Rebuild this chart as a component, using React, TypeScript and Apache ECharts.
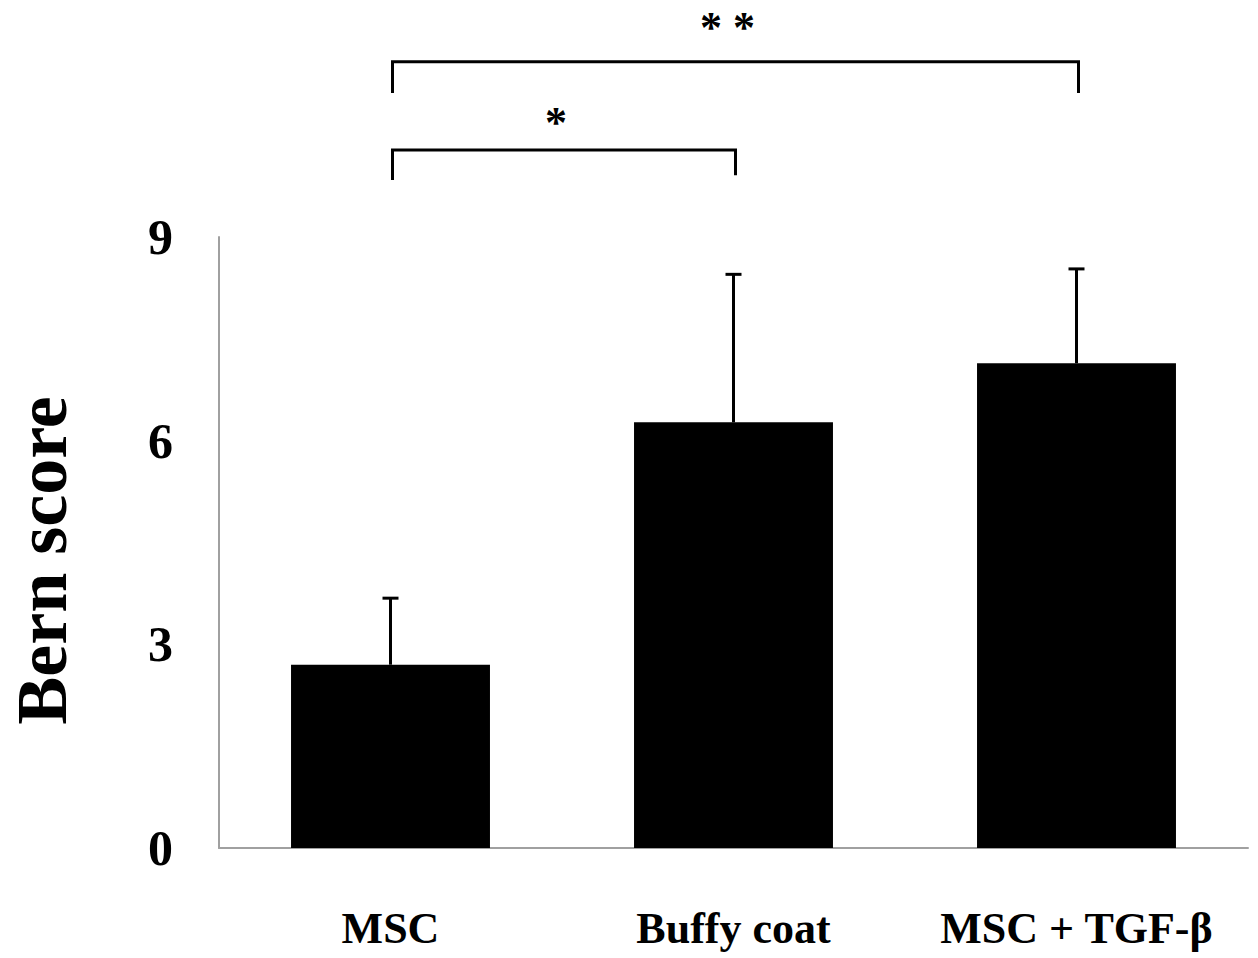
import React, { useEffect, useRef } from "react";
import * as echarts from "echarts";

const categories = ["MSC", "Buffy coat", "MSC + TGF-β"];
const means = [2.7, 6.27, 7.14];
const errorTops = [3.68, 8.45, 8.53];
const yTicks = [0, 3, 6, 9];

// significance brackets
const bracketFrom = [0, 0];
const bracketTo = [1, 2];
const bracketLevel = [10.28, 11.58];
const bracketDropLeft = [9.84, 11.12];
const bracketDropRight = [9.91, 11.12];
const bracketLabels = ["*", "* *"];
const bracketLabelLevel = [10.68, 12.08];

const FONT = '"Liberation Serif", "Times New Roman", serif';

export default function App() {
  const ref = useRef<HTMLDivElement>(null);
  useEffect(() => {
    document.body.style.margin = "0";
    const chart = echarts.init(ref.current!, null, { renderer: "svg" });
    chart.setOption({
      animation: false,
      grid: {
        left: 219,
        right: 10,
        top: 237,
        bottom: 110,
        containLabel: false,
        outerBoundsMode: "none",
      },
      xAxis: {
        type: "category",
        data: categories,
        axisLine: { show: true, lineStyle: { color: "#a0a0a0", width: 2 } },
        axisTick: { show: false },
        axisLabel: {
          interval: 0,
          hideOverlap: false,
          margin: 58,
          fontFamily: FONT,
          fontWeight: "bold",
          fontSize: 44,
          color: "#000",
        },
      },
      yAxis: {
        type: "value",
        min: yTicks[0],
        max: yTicks[yTicks.length - 1],
        interval: 3,
        name: "Bern score",
        nameLocation: "middle",
        nameGap: 141,
        nameTextStyle: {
          fontFamily: FONT,
          fontWeight: "bold",
          fontSize: 72,
          color: "#000",
          padding: [0, 36, 0, 0],
        },
        splitLine: { show: false },
        axisLine: { show: true, lineStyle: { color: "#a0a0a0", width: 2 } },
        axisTick: { show: false },
        axisLabel: {
          margin: 46,
          fontFamily: FONT,
          fontWeight: "bold",
          fontSize: 50,
          color: "#000",
          padding: [8, 0, 0, 0],
        },
      },
      series: [
        {
          type: "bar",
          data: means,
          barWidth: "58%",
          itemStyle: { color: "#000" },
        },
        {
          type: "custom",
          data: categories.map((_, i) => [i, means[i], errorTops[i]]),
          renderItem: (params: any, api: any) => {
            const x = api.value(0);
            const base = api.coord([x, api.value(1)]);
            const top = api.coord([x, api.value(2)]);
            const half = 8;
            return {
              type: "group",
              children: [
                {
                  type: "line",
                  shape: { x1: base[0], y1: base[1], x2: top[0], y2: top[1] },
                  style: { stroke: "#000", lineWidth: 3 },
                },
                {
                  type: "line",
                  shape: { x1: top[0] - half, y1: top[1], x2: top[0] + half, y2: top[1] },
                  style: { stroke: "#000", lineWidth: 3 },
                },
              ],
            };
          },
          z: 3,
        },
      ],
    });

    const graphics: any[] = [];
    for (let i = 0; i < bracketFrom.length; i++) {
      const pL = chart.convertToPixel({ gridIndex: 0 }, [bracketFrom[i], bracketLevel[i]]) as number[];
      const pR = chart.convertToPixel({ gridIndex: 0 }, [bracketTo[i], bracketLevel[i]]) as number[];
      const dL = chart.convertToPixel({ gridIndex: 0 }, [bracketFrom[i], bracketDropLeft[i]]) as number[];
      const dR = chart.convertToPixel({ gridIndex: 0 }, [bracketTo[i], bracketDropRight[i]]) as number[];
      const lab = chart.convertToPixel({ gridIndex: 0 }, [bracketFrom[i], bracketLabelLevel[i]]) as number[];
      const midX = (pL[0] + pR[0]) / 2;
      graphics.push({
        type: "polyline",
        shape: {
          points: [
            [dL[0] + 2, dL[1]],
            [pL[0] + 2, pL[1]],
            [pR[0] + 2, pR[1]],
            [dR[0] + 2, dR[1]],
          ],
        },
        style: { stroke: "#000", lineWidth: 3, fill: null },
      });
      graphics.push({
        type: "text",
        x: midX - 6,
        y: lab[1],
        style: {
          text: bracketLabels[i],
          fontFamily: FONT,
          fontWeight: "bold",
          fontSize: 44,
          fill: "#000",
          textAlign: "center",
          textVerticalAlign: "middle",
        },
      });
    }
    chart.setOption({ graphic: graphics });

    return () => chart.dispose();
  }, []);
  return <div ref={ref} style={{ width: 1258, height: 958 }} />;
}
